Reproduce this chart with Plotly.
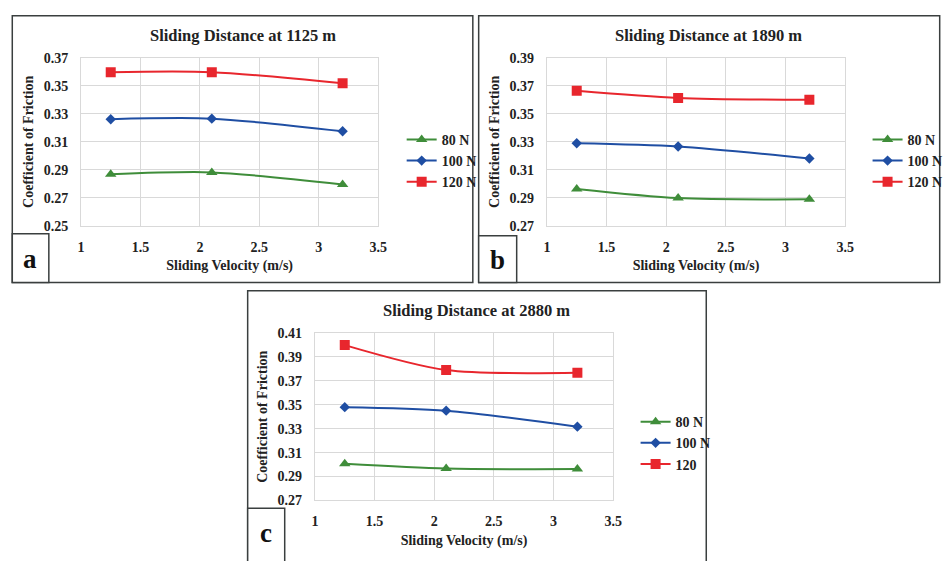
import plotly.graph_objects as go

W, H = 948, 561
velocity = [1.25, 2.1, 3.2]
x_ticks = [1, 1.5, 2, 2.5, 3, 3.5]

a_80 = [0.2868, 0.2882, 0.2796]
a_100 = [0.3261, 0.3265, 0.3175]
a_120 = [0.3596, 0.3596, 0.3517]

b_80 = [0.2964, 0.2899, 0.2890]
b_100 = [0.3290, 0.3267, 0.3181]
b_120 = [0.3664, 0.3613, 0.3599]

c_80 = [0.3007, 0.2967, 0.2962]
c_100 = [0.3480, 0.3451, 0.3317]
c_120 = [0.3999, 0.3790, 0.3768]

titles = ["Sliding Distance at 1125 m", "Sliding Distance at 1890 m", "Sliding Distance at 2880 m"]
names_ab = ["80 N", "100 N", "120 N"]
names_c = ["80 N", "100 N", "120"]
y_ranges = [(0.25, 0.37), (0.27, 0.39), (0.27, 0.41)]
panel_letters = ["a", "b", "c"]

GREEN = "#3f8d3a"
BLUE = "#1f4ea3"
RED = "#e8262d"
FONT = "Liberation Serif"

def px_x(p):
    return p / W

def px_y(p):
    return 1 - p / H

plots = [
    dict(x0=79, x1=384, y0=52, y1=225),
    dict(x0=557, x1=863, y0=52, y1=225),
    dict(x0=319, x1=625, y0=335, y1=507),
]
frames = [
    dict(x0=8.5, x1=481, y0=9, y1=283),
    dict(x0=487, x1=960, y0=9, y1=283),
    dict(x0=250, x1=720.5, y0=291.5, y1=570),
]
label_boxes = [
    dict(x0=8.5, x1=46, y0=233, y1=283),
    dict(x0=487, x1=526, y0=235, y1=283),
    dict(x0=250, x1=288, y0=515, y1=570),
]
label_centers = [(27, 259), (506, 260), (269, 540)]
title_pos = [(245, 29), (723, 29), (485, 312)]
legend_pos = [(408, 120), (886, 120), (648, 410)]

data = [(a_80, a_100, a_120), (b_80, b_100, b_120), (c_80, c_100, c_120)]

fig = go.Figure()
layout = dict(
    width=W, height=H,
    margin=dict(l=0, r=0, t=0, b=0),
    paper_bgcolor="white", plot_bgcolor="white",
    font=dict(family=FONT, color="#222"),
    shapes=[], annotations=[],
)

for i in range(3):
    ax = "" if i == 0 else str(i + 1)
    leg = "legend" if i == 0 else f"legend{i + 1}"
    names = names_c if i == 2 else names_ab
    s80, s100, s120 = data[i]
    series = [
        (s80, names[0], GREEN, "triangle-up", 10),
        (s100, names[1], BLUE, "diamond", 8),
        (s120, names[2], RED, "square", 10),
    ]
    for vals, nm, col, sym, sz in series:
        fig.add_trace(go.Scatter(
            x=velocity, y=vals, name=nm, mode="lines+markers",
            line=dict(color=col, width=2, shape="spline", smoothing=0.8),
            marker=dict(symbol=sym, size=sz, color=col),
            xaxis="x" + ax, yaxis="y" + ax, legend=leg,
        ))
    p = plots[i]
    layout["xaxis" + ax] = dict(
        domain=[px_x(p["x0"]), px_x(p["x1"])],
        anchor="y" + ax, range=[1, 3.5], tickvals=x_ticks,
        ticktext=[f"{t:g}" for t in x_ticks],
        showgrid=True, gridcolor="#d9d9d9", gridwidth=1,
        showline=True, linecolor="#d9d9d9", mirror=True, zeroline=False,
        ticks="", ticklabelstandoff=8,
        tickfont=dict(family=FONT, size=14, color="#222", weight="bold"),
        title=dict(text="<b>Sliding Velocity (m/s)</b>", font=dict(family=FONT, size=14, color="#222"), standoff=6),
    )
    lo, hi = y_ranges[i]
    layout["yaxis" + ax] = dict(
        domain=[px_y(p["y1"]), px_y(p["y0"])],
        anchor="x" + ax, range=[lo, hi], dtick=0.02, tick0=lo, tickformat=".2f",
        showgrid=True, gridcolor="#d9d9d9", gridwidth=1,
        showline=True, linecolor="#d9d9d9", mirror=True, zeroline=False,
        ticks="", ticklabelstandoff=9,
        tickfont=dict(family=FONT, size=14, color="#222", weight="bold"),
        title=dict(text="<b>Coefficient of Friction</b>", font=dict(family=FONT, size=14, color="#222"), standoff=6),
    )
    lx, ly = legend_pos[i]
    layout[leg] = dict(
        x=px_x(lx), y=px_y(ly), xanchor="left", yanchor="top",
        bgcolor="rgba(0,0,0,0)", tracegroupgap=0, itemwidth=30,
        font=dict(family=FONT, size=14, color="#222", weight="bold"),
    )
    f = frames[i]
    layout["shapes"].append(dict(type="rect", xref="paper", yref="paper",
        x0=px_x(f["x0"]), x1=px_x(f["x1"]), y0=px_y(f["y1"]), y1=px_y(f["y0"]),
        line=dict(color="#3a3f3f", width=1.5), layer="below"))
    lb = label_boxes[i]
    layout["shapes"].append(dict(type="rect", xref="paper", yref="paper",
        x0=px_x(lb["x0"]), x1=px_x(lb["x1"]), y0=px_y(lb["y1"]), y1=px_y(lb["y0"]),
        line=dict(color="#3a3f3f", width=1.5), fillcolor="white"))
    cx, cy = label_centers[i]
    layout["annotations"].append(dict(
        text=f"<b>{panel_letters[i]}</b>", xref="paper", yref="paper",
        x=px_x(cx), y=px_y(cy), xanchor="center", yanchor="middle", showarrow=False,
        font=dict(family=FONT, size=27, color="#111")))
    tx, ty = title_pos[i]
    layout["annotations"].append(dict(
        text=f"<b>{titles[i]}</b>", xref="paper", yref="paper",
        x=px_x(tx), y=px_y(ty),
        xanchor="center", yanchor="middle", showarrow=False,
        font=dict(family=FONT, size=16.5, color="#222")))

fig.update_layout(**layout)
fig.write_html("out.html")
